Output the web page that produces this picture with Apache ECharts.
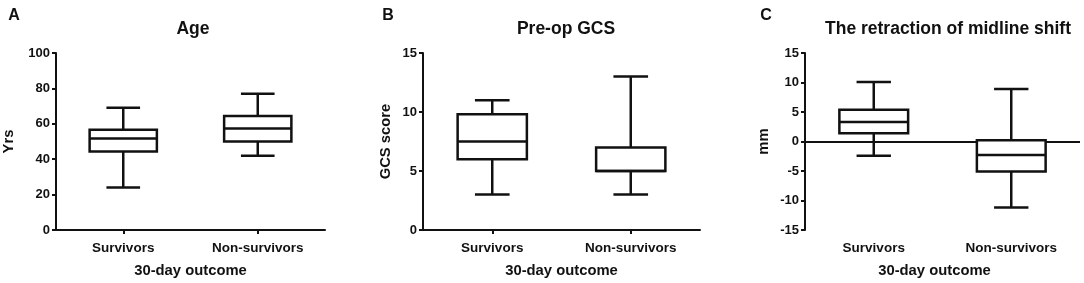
<!DOCTYPE html>
<html>
<head>
<meta charset="utf-8">
<script src="https://cdn.jsdelivr.net/npm/echarts@6/dist/echarts.min.js"></script>
<style>
  html, body { margin: 0; padding: 0; background: #fff; }
  #root { width: 1084px; height: 283px; }
</style>
</head>
<body>
<div id="root"></div>
<script>
// categories
var categories = ['Survivors', 'Non-survivors'];
// [min, Q1, median, Q3, max]
var ageSurvivors = [24, 44.4, 51.7, 56.7, 69];
var ageNonSurvivors = [42, 50, 57.4, 64.4, 77];
var gcsSurvivors = [3, 6, 7.5, 9.8, 11];
var gcsNonSurvivors = [3, 5, 5, 7, 13];
var shiftSurvivors = [-2.4, 1.4, 3.3, 5.4, 10.1];
var shiftNonSurvivors = [-11.2, -5.1, -2.3, 0.2, 8.9];

var FONT = 'Liberation Sans, Arial, sans-serif';
var INK = '#111';

// box + whiskers drawn through the axes
function renderBox(params, api) {
  var idx = api.value(0);
  var lo = api.coord([idx, api.value(1)]);
  var q1 = api.coord([idx, api.value(2)]);
  var md = api.coord([idx, api.value(3)]);
  var q3 = api.coord([idx, api.value(4)]);
  var hi = api.coord([idx, api.value(5)]);
  var band = api.size([1, 0])[0];
  var bw = band * 0.5;
  var cw = band * 0.25;
  var x = lo[0];
  var st = {stroke: INK, lineWidth: 2.5, fill: null};
  return {
    type: 'group',
    children: [
      {type: 'line', shape: {x1: x, y1: q3[1], x2: x, y2: hi[1]}, style: st},
      {type: 'line', shape: {x1: x - cw / 2, y1: hi[1], x2: x + cw / 2, y2: hi[1]}, style: st},
      {type: 'line', shape: {x1: x, y1: q1[1], x2: x, y2: lo[1]}, style: st},
      {type: 'line', shape: {x1: x - cw / 2, y1: lo[1], x2: x + cw / 2, y2: lo[1]}, style: st},
      {type: 'rect', shape: {x: x - bw / 2, y: q3[1], width: bw, height: q1[1] - q3[1]}, style: {stroke: INK, lineWidth: 2.5, fill: '#fff'}},
      {type: 'line', shape: {x1: x - bw / 2, y1: md[1], x2: x + bw / 2, y2: md[1]}, style: st}
    ]
  };
}

function boxData(a, b) {
  return [[0].concat(a), [1].concat(b)];
}

function xAxisOf(gi, showLine, namePad) {
  return {
    type: 'category',
    gridIndex: gi,
    data: categories,
    name: '30-day outcome',
    nameLocation: 'middle',
    nameGap: 33,
    nameTextStyle: {fontFamily: FONT, fontWeight: 'bold', fontSize: 14.8, color: INK, padding: namePad},
    axisLine: {show: showLine, onZero: false, lineStyle: {color: INK, width: 2}},
    axisTick: {show: showLine, alignWithLabel: true, length: 4, lineStyle: {color: INK, width: 2}},
    axisLabel: {margin: 11, fontFamily: FONT, fontWeight: 'bold', fontSize: 13.5, color: INK},
    splitLine: {show: false}
  };
}

function yAxisOf(gi, min, max, interval, name, gap) {
  return {
    type: 'value',
    gridIndex: gi,
    min: min, max: max, interval: interval,
    name: name,
    nameLocation: 'middle',
    nameGap: gap,
    nameTextStyle: {fontFamily: FONT, fontWeight: 'bold', fontSize: 14.8, color: INK},
    axisLine: {show: true, lineStyle: {color: INK, width: 2}},
    axisTick: {show: true, length: 4, lineStyle: {color: INK, width: 2}},
    axisLabel: {margin: 6, fontFamily: FONT, fontWeight: 'bold', fontSize: 13, color: INK},
    splitLine: {show: false}
  };
}

function titleOf(text, x, y, size) {
  return {
    text: text, left: x, top: y, textAlign: 'center',
    textStyle: {fontFamily: FONT, fontWeight: 'bold', fontSize: size, color: INK}
  };
}

var option = {
  backgroundColor: '#fff',
  animation: false,
  title: [
    titleOf('A', 9, 3, 16),
    titleOf('B', 383, 3, 16),
    titleOf('C', 761, 3, 16),
    titleOf('Age', 188, 15, 17.5),
    titleOf('Pre-op GCS', 561, 15, 17.5),
    titleOf('The retraction of midline shift', 943, 15, 17.5)
  ],
  grid: [
    {left: 52, top: 53, width: 273, height: 183},
    {left: 423, top: 53, width: 277, height: 183},
    {left: 805, top: 53, width: 275, height: 183}
  ],
  xAxis: [xAxisOf(0, true, 0), xAxisOf(1, true, 0), xAxisOf(2, false, [0, 16, 0, 0])],
  yAxis: [
    yAxisOf(0, 0, 100, 20, 'Yrs', 40),
    yAxisOf(1, 0, 15, 5, 'GCS score', 30),
    yAxisOf(2, -15, 15, 5, 'mm', 34)
  ],
  series: [
    {type: 'custom', xAxisIndex: 0, yAxisIndex: 0, renderItem: renderBox, data: boxData(ageSurvivors, ageNonSurvivors)},
    {type: 'custom', xAxisIndex: 1, yAxisIndex: 1, renderItem: renderBox, data: boxData(gcsSurvivors, gcsNonSurvivors)},
    {
      type: 'custom', xAxisIndex: 2, yAxisIndex: 2, renderItem: renderBox,
      data: boxData(shiftSurvivors, shiftNonSurvivors),
      markLine: {
        silent: true, symbol: 'none', z: 1,
        label: {show: false},
        lineStyle: {color: INK, width: 2, type: 'solid'},
        data: [{yAxis: 0}]
      }
    }
  ]
};

var myChart = echarts.init(document.getElementById('root'));
myChart.setOption(option);
</script>
</body>
</html>
